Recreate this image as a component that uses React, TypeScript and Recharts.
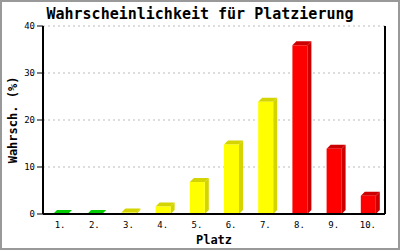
import { Bar, BarChart, CartesianGrid, Cell, XAxis, YAxis } from "recharts";

const places = ["1.", "2.", "3.", "4.", "5.", "6.", "7.", "8.", "9.", "10."];
const probability = [0, 0, 0.3, 1.6, 6.8, 14.8, 23.9, 35.9, 13.9, 3.9];
const frontColors = ["#00dd00", "#00dd00", "#ffff00", "#ffff00", "#ffff00", "#ffff00", "#ffff00", "#ff0000", "#ff0000", "#ff0000"];
const sideColors = ["#00cc00", "#00cc00", "#d4d400", "#d4d400", "#d4d400", "#d4d400", "#d4d400", "#cc0000", "#cc0000", "#cc0000"];
const yTicks = [0, 10, 20, 30, 40];

const data = places.map((name, i) => ({
  name,
  value: probability[i],
  front: frontColors[i],
  side: sideColors[i],
}));

const FONT = "'DejaVu Sans Mono', 'Liberation Mono', monospace";
const DEPTH = 4;

function Bar3D(props: any) {
  const { x, y, width, height, payload } = props;
  const d = DEPTH;
  const h = Math.max(height, 0);
  return (
    <g>
      <polygon
        points={`${x + width},${y} ${x + width + d},${y - d} ${x + width + d},${y + h - d} ${x + width},${y + h}`}
        fill={payload.side}
      />
      <polygon
        points={`${x},${y} ${x + d},${y - d} ${x + width + d},${y - d} ${x + width},${y}`}
        fill={payload.side}
      />
      {h > 0 && <rect x={x} y={y} width={width} height={h} fill={payload.front} />}
    </g>
  );
}

export default function App() {
  return (
    <div style={{ position: "absolute", left: 0, top: 0, width: 400, height: 250, background: "#fff" }}>
      <BarChart
        width={400}
        height={250}
        data={data}
        margin={{ top: 26, right: 0, left: 0, bottom: 0 }}
      >
        <CartesianGrid vertical={false} stroke="#bbbbbb" strokeDasharray="2 3" />
        <XAxis
          dataKey="name"
          height={36}
          tickLine={false}
          axisLine={{ stroke: "#000", strokeWidth: 2 }}
          tick={{ fontSize: 9, fontFamily: FONT, fill: "#000" }}
          tickMargin={2}
          interval={0}
        />
        <YAxis
          width={43}
          domain={[0, 40]}
          ticks={yTicks}
          tickSize={6}
          tickLine={{ stroke: "#000" }}
          axisLine={{ stroke: "#000", strokeWidth: 2 }}
          tick={{ fontSize: 9, fontFamily: FONT, fill: "#000" }}
        />
        <YAxis
          yAxisId="right"
          orientation="right"
          width={15}
          domain={[0, 40]}
          tick={false}
          tickLine={false}
          axisLine={{ stroke: "#000", strokeWidth: 2 }}
        />
        <Bar dataKey="value" barSize={15} shape={<Bar3D />} isAnimationActive={false}>
          {data.map((d, i) => (
            <Cell key={i} fill={d.front} />
          ))}
        </Bar>
        <text x={200} y={19} textAnchor="middle" fontFamily={FONT} fontWeight="bold" fontSize={15} fill="#000">
          Wahrscheinlichkeit für Platzierung
        </text>
        <text x={214} y={244} textAnchor="middle" fontFamily={FONT} fontWeight="bold" fontSize={12} fill="#000">
          Platz
        </text>
        <text
          x={17}
          y={120}
          textAnchor="middle"
          fontFamily={FONT}
          fontWeight="bold"
          fontSize={12}
          fill="#000"
          transform="rotate(-90 17 120)"
        >
          Wahrsch. (%)
        </text>
      </BarChart>
      <div
        style={{
          position: "absolute",
          left: 0,
          top: 0,
          width: 400,
          height: 250,
          boxSizing: "border-box",
          border: "2px solid #999",
          pointerEvents: "none",
        }}
      />
    </div>
  );
}
